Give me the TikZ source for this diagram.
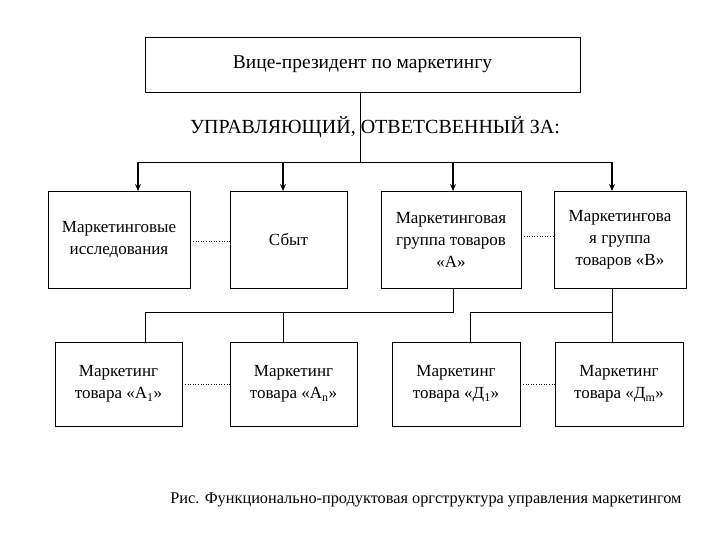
\documentclass[tikz,border=0pt]{standalone}
\usepackage{fontspec}
\setmainfont{Liberation Serif}
\usetikzlibrary{arrows.meta}
\begin{document}
\begin{tikzpicture}[x=1pt,y=-1pt,
  box/.style={draw,line width=0.9pt,align=center,inner sep=1pt,font=\fontsize{17}{22}\selectfont},
  conn/.style={line width=0.9pt},
  arr/.style={line width=1.2pt,-{Stealth[length=7pt,width=6pt]}},
  dots/.style={dotted,line width=0.6pt}]
\useasboundingbox (0,0) rectangle (720,540);
\node[box,minimum width=435pt,minimum height=55pt,font=\fontsize{19.5}{22}\selectfont] (vp) at (362.5,64.5) {Вице-президент по маркетингу};
\node[font=\fontsize{20}{22}\selectfont] (lbl) at (375,127) {УПРАВЛЯЮЩИЙ, ОТВЕТСВЕННЫЙ ЗА:};
\node[box,minimum width=142pt,minimum height=97pt] (b1) at (119,239.5) {Маркетинговые\\исследования};
\node[box,minimum width=117pt,minimum height=97pt] (b2) at (288.5,239.5) {Сбыт};
\node[box,minimum width=140pt,minimum height=97pt] (b3) at (451,239.5) {Маркетинговая\\группа товаров\\«А»};
\node[box,minimum width=132pt,minimum height=97pt] (b4) at (620,239.5) {Маркетингова\\я группа\\товаров «В»};
\node[box,minimum width=127pt,minimum height=84pt] (c1) at (118.5,384) {Маркетинг\\товара «А\textsubscript{1}»};
\node[box,minimum width=127pt,minimum height=84pt] (c2) at (293.5,384) {Маркетинг\\товара «А\textsubscript{n}»};
\node[box,minimum width=128pt,minimum height=84pt] (c3) at (456,384) {Маркетинг\\товара «Д\textsubscript{1}»};
\node[box,minimum width=128pt,minimum height=84pt] (c4) at (619,384) {Маркетинг\\товара «Д\textsubscript{m}»};
\node[anchor=east,font=\fontsize{16.3}{18}\selectfont] (cap) at (685,500) {Рис. Функционально-продуктовая оргструктура управления маркетингом};
\coordinate (h0) at (360,162);
\draw[conn] (vp.south -| h0) -- (h0);
\draw[conn] (138,162) -- (612,162);
\draw[arr] (138,162) -- (138,191);
\draw[arr] (283,162) -- (283,191);
\draw[arr] (453,162) -- (453,191);
\draw[arr] (612,162) -- (612,191);
\draw[conn] (b3.south -| 453,0) -- (453,312) -| (c1.north -| 145,0);
\draw[conn] (283,312) -- (c2.north -| 283,0);
\draw[conn] (b4.south -| 612,0) -- (612,312) -| (c3.north -| 470,0);
\draw[conn] (612,312) -- (c4.north -| 612,0);
\draw[dots] (b1.east |- 0,241) -- (b2.west |- 0,241);
\draw[dots] (b3.east |- 0,236) -- (b4.west |- 0,236);
\draw[dots] (c1.east |- 0,384) -- (c2.west |- 0,384);
\draw[dots] (c3.east |- 0,384) -- (c4.west |- 0,384);
\end{tikzpicture}
\end{document}
